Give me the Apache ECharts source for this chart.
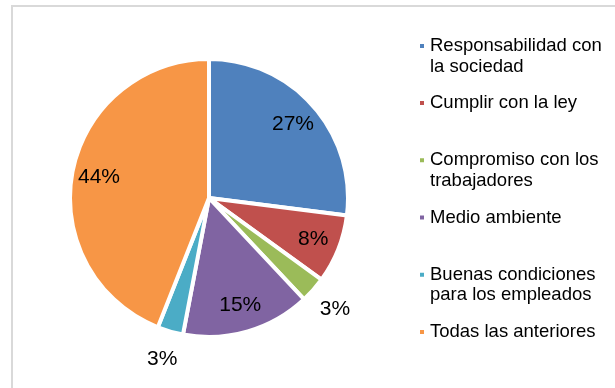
<!DOCTYPE html>
<html>
<head>
<meta charset="utf-8">
<script src="https://cdn.jsdelivr.net/npm/echarts@6/dist/echarts.min.js"></script>
<style>
  html, body { margin: 0; padding: 0; background: #fff; }
  #chart { width: 615px; height: 388px; }
</style>
</head>
<body>
<div id="chart"></div>
<script>
// Survey answers, share of respondents (%)
const categories = [
  'Responsabilidad con\nla sociedad',
  'Cumplir con la ley',
  'Compromiso con los\ntrabajadores',
  'Medio ambiente',
  'Buenas condiciones\npara los empleados',
  'Todas las anteriores'
];
const values = [27, 8, 3, 15, 3, 44];
const colors = ['#4F81BD', '#C0504D', '#9BBB59', '#8064A2', '#4BACC6', '#F79646'];

const center = [209, 198];
const font = 'Liberation Sans, Arial, sans-serif';
const smallSlice = 5; // slices below this get their label outside the pie

const chart = echarts.init(document.getElementById('chart'), null, { renderer: 'canvas' });

// Transparent ring whose mid-radius carries the percentage labels
function labelRing(radius, showFn) {
  return {
    type: 'pie',
    center: center,
    radius: radius,
    startAngle: 90,
    clockwise: true,
    silent: true,
    animation: false,
    itemStyle: { color: 'transparent', borderWidth: 0 },
    labelLine: { show: false },
    emphasis: { disabled: true },
    data: categories.map((name, i) => ({
      name: name,
      value: values[i],
      label: { show: showFn(values[i]) }
    })),
    label: {
      position: 'inside',
      formatter: '{c}%',
      color: '#000',
      fontSize: 21,
      fontFamily: font
    }
  };
}

chart.setOption({
  backgroundColor: '#fff',
  animation: false,
  graphic: [{
    type: 'rect',
    shape: { x: 12, y: 6, width: 700, height: 500 },
    style: { fill: 'none', stroke: '#d9d9d9', lineWidth: 2 },
    silent: true
  }],
  legend: {
    orient: 'vertical',
    left: 418,
    top: 15,
    padding: 0,
    itemGap: 16,
    itemWidth: 6,
    itemHeight: 6,
    icon: 'rect',
    selectedMode: false,
    data: categories,
    // two-line entries get an empty first line so the marker sits beside the first text line
    formatter: name => name.indexOf('\n') >= 0 ? '\n' + name : name,
    textStyle: {
      color: '#000',
      fontSize: 18.5,
      lineHeight: 20.6,
      fontFamily: font
    }
  },
  series: [
    {
      type: 'pie',
      center: center,
      radius: 139,
      startAngle: 90,
      clockwise: true,
      animation: false,
      label: { show: false },
      labelLine: { show: false },
      emphasis: { disabled: true },
      itemStyle: { borderColor: '#fff', borderWidth: 4 },
      data: categories.map((name, i) => ({
        name: name,
        value: values[i],
        itemStyle: { color: colors[i] }
      }))
    },
    labelRing([78, 140], v => v >= smallSlice),
    labelRing([142, 188], v => v < smallSlice)
  ]
});
</script>
</body>
</html>
